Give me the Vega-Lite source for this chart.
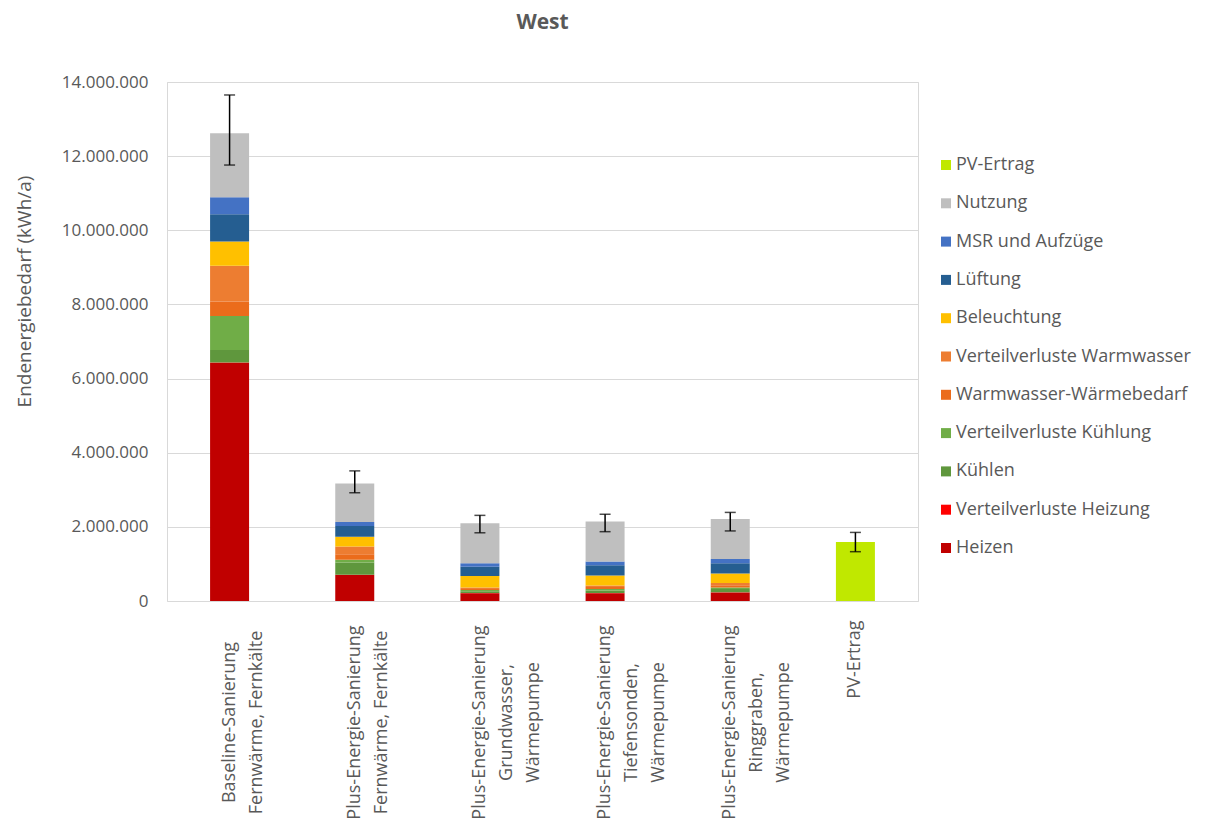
{
  "$schema": "https://vega.github.io/schema/vega-lite/v6.json",
  "autosize": "none",
  "width": 751,
  "height": 519,
  "padding": {"left": 167, "top": 82, "right": 288, "bottom": 230},
  "background": "white",
  "title": {"text": "West", "anchor": "middle", "frame": "group", "fontSize": 21, "fontWeight": "bold", "color": "#595959", "font": "Open Sans", "baseline": "bottom", "offset": 19},
  "datasets": {
    "segmente": [
      {"Variante": "Baseline-Sanierung|Fernwärme, Fernkälte", "Kategorie": "Heizen", "Nr": 1, "Wert": 6420000},
      {"Variante": "Baseline-Sanierung|Fernwärme, Fernkälte", "Kategorie": "Verteilverluste Heizung", "Nr": 2, "Wert": 15000},
      {"Variante": "Baseline-Sanierung|Fernwärme, Fernkälte", "Kategorie": "Kühlen", "Nr": 3, "Wert": 335000},
      {"Variante": "Baseline-Sanierung|Fernwärme, Fernkälte", "Kategorie": "Verteilverluste Kühlung", "Nr": 4, "Wert": 920000},
      {"Variante": "Baseline-Sanierung|Fernwärme, Fernkälte", "Kategorie": "Warmwasser-Wärmebedarf", "Nr": 5, "Wert": 390000},
      {"Variante": "Baseline-Sanierung|Fernwärme, Fernkälte", "Kategorie": "Verteilverluste Warmwasser", "Nr": 6, "Wert": 960000},
      {"Variante": "Baseline-Sanierung|Fernwärme, Fernkälte", "Kategorie": "Beleuchtung", "Nr": 7, "Wert": 660000},
      {"Variante": "Baseline-Sanierung|Fernwärme, Fernkälte", "Kategorie": "Lüftung", "Nr": 8, "Wert": 730000},
      {"Variante": "Baseline-Sanierung|Fernwärme, Fernkälte", "Kategorie": "MSR und Aufzüge", "Nr": 9, "Wert": 460000},
      {"Variante": "Baseline-Sanierung|Fernwärme, Fernkälte", "Kategorie": "Nutzung", "Nr": 10, "Wert": 1730000},

      {"Variante": "Plus-Energie-Sanierung|Fernwärme, Fernkälte", "Kategorie": "Heizen", "Nr": 1, "Wert": 700000},
      {"Variante": "Plus-Energie-Sanierung|Fernwärme, Fernkälte", "Kategorie": "Verteilverluste Heizung", "Nr": 2, "Wert": 10000},
      {"Variante": "Plus-Energie-Sanierung|Fernwärme, Fernkälte", "Kategorie": "Kühlen", "Nr": 3, "Wert": 330000},
      {"Variante": "Plus-Energie-Sanierung|Fernwärme, Fernkälte", "Kategorie": "Verteilverluste Kühlung", "Nr": 4, "Wert": 70000},
      {"Variante": "Plus-Energie-Sanierung|Fernwärme, Fernkälte", "Kategorie": "Warmwasser-Wärmebedarf", "Nr": 5, "Wert": 150000},
      {"Variante": "Plus-Energie-Sanierung|Fernwärme, Fernkälte", "Kategorie": "Verteilverluste Warmwasser", "Nr": 6, "Wert": 210000},
      {"Variante": "Plus-Energie-Sanierung|Fernwärme, Fernkälte", "Kategorie": "Beleuchtung", "Nr": 7, "Wert": 260000},
      {"Variante": "Plus-Energie-Sanierung|Fernwärme, Fernkälte", "Kategorie": "Lüftung", "Nr": 8, "Wert": 290000},
      {"Variante": "Plus-Energie-Sanierung|Fernwärme, Fernkälte", "Kategorie": "MSR und Aufzüge", "Nr": 9, "Wert": 110000},
      {"Variante": "Plus-Energie-Sanierung|Fernwärme, Fernkälte", "Kategorie": "Nutzung", "Nr": 10, "Wert": 1040000},

      {"Variante": "Plus-Energie-Sanierung|Grundwasser,|Wärmepumpe", "Kategorie": "Heizen", "Nr": 1, "Wert": 210000},
      {"Variante": "Plus-Energie-Sanierung|Grundwasser,|Wärmepumpe", "Kategorie": "Verteilverluste Heizung", "Nr": 2, "Wert": 5000},
      {"Variante": "Plus-Energie-Sanierung|Grundwasser,|Wärmepumpe", "Kategorie": "Kühlen", "Nr": 3, "Wert": 50000},
      {"Variante": "Plus-Energie-Sanierung|Grundwasser,|Wärmepumpe", "Kategorie": "Verteilverluste Kühlung", "Nr": 4, "Wert": 30000},
      {"Variante": "Plus-Energie-Sanierung|Grundwasser,|Wärmepumpe", "Kategorie": "Warmwasser-Wärmebedarf", "Nr": 5, "Wert": 30000},
      {"Variante": "Plus-Energie-Sanierung|Grundwasser,|Wärmepumpe", "Kategorie": "Verteilverluste Warmwasser", "Nr": 6, "Wert": 40000},
      {"Variante": "Plus-Energie-Sanierung|Grundwasser,|Wärmepumpe", "Kategorie": "Beleuchtung", "Nr": 7, "Wert": 310000},
      {"Variante": "Plus-Energie-Sanierung|Grundwasser,|Wärmepumpe", "Kategorie": "Lüftung", "Nr": 8, "Wert": 250000},
      {"Variante": "Plus-Energie-Sanierung|Grundwasser,|Wärmepumpe", "Kategorie": "MSR und Aufzüge", "Nr": 9, "Wert": 90000},
      {"Variante": "Plus-Energie-Sanierung|Grundwasser,|Wärmepumpe", "Kategorie": "Nutzung", "Nr": 10, "Wert": 1080000},

      {"Variante": "Plus-Energie-Sanierung|Tiefensonden,|Wärmepumpe", "Kategorie": "Heizen", "Nr": 1, "Wert": 210000},
      {"Variante": "Plus-Energie-Sanierung|Tiefensonden,|Wärmepumpe", "Kategorie": "Verteilverluste Heizung", "Nr": 2, "Wert": 5000},
      {"Variante": "Plus-Energie-Sanierung|Tiefensonden,|Wärmepumpe", "Kategorie": "Kühlen", "Nr": 3, "Wert": 70000},
      {"Variante": "Plus-Energie-Sanierung|Tiefensonden,|Wärmepumpe", "Kategorie": "Verteilverluste Kühlung", "Nr": 4, "Wert": 40000},
      {"Variante": "Plus-Energie-Sanierung|Tiefensonden,|Wärmepumpe", "Kategorie": "Warmwasser-Wärmebedarf", "Nr": 5, "Wert": 50000},
      {"Variante": "Plus-Energie-Sanierung|Tiefensonden,|Wärmepumpe", "Kategorie": "Verteilverluste Warmwasser", "Nr": 6, "Wert": 40000},
      {"Variante": "Plus-Energie-Sanierung|Tiefensonden,|Wärmepumpe", "Kategorie": "Beleuchtung", "Nr": 7, "Wert": 270000},
      {"Variante": "Plus-Energie-Sanierung|Tiefensonden,|Wärmepumpe", "Kategorie": "Lüftung", "Nr": 8, "Wert": 280000},
      {"Variante": "Plus-Energie-Sanierung|Tiefensonden,|Wärmepumpe", "Kategorie": "MSR und Aufzüge", "Nr": 9, "Wert": 100000},
      {"Variante": "Plus-Energie-Sanierung|Tiefensonden,|Wärmepumpe", "Kategorie": "Nutzung", "Nr": 10, "Wert": 1080000},

      {"Variante": "Plus-Energie-Sanierung|Ringgraben,|Wärmepumpe", "Kategorie": "Heizen", "Nr": 1, "Wert": 230000},
      {"Variante": "Plus-Energie-Sanierung|Ringgraben,|Wärmepumpe", "Kategorie": "Verteilverluste Heizung", "Nr": 2, "Wert": 5000},
      {"Variante": "Plus-Energie-Sanierung|Ringgraben,|Wärmepumpe", "Kategorie": "Kühlen", "Nr": 3, "Wert": 90000},
      {"Variante": "Plus-Energie-Sanierung|Ringgraben,|Wärmepumpe", "Kategorie": "Verteilverluste Kühlung", "Nr": 4, "Wert": 40000},
      {"Variante": "Plus-Energie-Sanierung|Ringgraben,|Wärmepumpe", "Kategorie": "Warmwasser-Wärmebedarf", "Nr": 5, "Wert": 60000},
      {"Variante": "Plus-Energie-Sanierung|Ringgraben,|Wärmepumpe", "Kategorie": "Verteilverluste Warmwasser", "Nr": 6, "Wert": 60000},
      {"Variante": "Plus-Energie-Sanierung|Ringgraben,|Wärmepumpe", "Kategorie": "Beleuchtung", "Nr": 7, "Wert": 260000},
      {"Variante": "Plus-Energie-Sanierung|Ringgraben,|Wärmepumpe", "Kategorie": "Lüftung", "Nr": 8, "Wert": 270000},
      {"Variante": "Plus-Energie-Sanierung|Ringgraben,|Wärmepumpe", "Kategorie": "MSR und Aufzüge", "Nr": 9, "Wert": 120000},
      {"Variante": "Plus-Energie-Sanierung|Ringgraben,|Wärmepumpe", "Kategorie": "Nutzung", "Nr": 10, "Wert": 1080000},

      {"Variante": "PV-Ertrag", "Kategorie": "PV-Ertrag", "Nr": 11, "Wert": 1590000}
    ],
    "fehler": [
      {"Variante": "Baseline-Sanierung|Fernwärme, Fernkälte", "Unten": 11760000, "Oben": 13650000},
      {"Variante": "Plus-Energie-Sanierung|Fernwärme, Fernkälte", "Unten": 2920000, "Oben": 3510000},
      {"Variante": "Plus-Energie-Sanierung|Grundwasser,|Wärmepumpe", "Unten": 1840000, "Oben": 2310000},
      {"Variante": "Plus-Energie-Sanierung|Tiefensonden,|Wärmepumpe", "Unten": 1870000, "Oben": 2340000},
      {"Variante": "Plus-Energie-Sanierung|Ringgraben,|Wärmepumpe", "Unten": 1890000, "Oben": 2390000},
      {"Variante": "PV-Ertrag", "Unten": 1330000, "Oben": 1850000}
    ]
  },
  "encoding": {
    "x": {
      "field": "Variante",
      "type": "nominal",
      "sort": [
        "Baseline-Sanierung|Fernwärme, Fernkälte",
        "Plus-Energie-Sanierung|Fernwärme, Fernkälte",
        "Plus-Energie-Sanierung|Grundwasser,|Wärmepumpe",
        "Plus-Energie-Sanierung|Tiefensonden,|Wärmepumpe",
        "Plus-Energie-Sanierung|Ringgraben,|Wärmepumpe",
        "PV-Ertrag"
      ],
      "scale": {"paddingInner": 0, "paddingOuter": 0},
      "axis": {
        "title": null,
        "labelExpr": "split(datum.label, '|')",
        "labelAngle": -90,
        "labelAlign": "center",
        "labelBaseline": "middle",
        "labelFont": "Open Sans",
        "labelFontSize": 18,
        "labelLineHeight": 27,
        "labelColor": "#595959",
        "labelLimit": 400,
        "labelOverlap": false,
        "labelPadding": {"condition": {"test": "datum.value === 'PV-Ertrag'", "value": 58}, "value": 121},
        "ticks": false,
        "tickSize": 0,
        "domain": false,
        "grid": false
      }
    }
  },
  "layer": [
    {
      "data": {"name": "segmente"},
      "mark": {"type": "bar", "width": 39},
      "encoding": {
        "y": {
          "field": "Wert",
          "type": "quantitative",
          "stack": "zero",
          "scale": {"domain": [0, 14000000], "nice": false},
          "axis": {
            "title": "Endenergiebedarf (kWh/a)",
            "format": ",.0f",
            "values": [0, 2000000, 4000000, 6000000, 8000000, 10000000, 12000000, 14000000],
            "labelOverlap": false,
            "labelFont": "Open Sans",
            "labelFontSize": 17,
            "labelColor": "#595959",
            "labelPadding": 19,
            "titleFont": "Open Sans",
            "titleFontSize": 19,
            "titleFontWeight": "normal",
            "titleColor": "#595959",
            "titleAngle": -90,
            "titleBaseline": "middle",
            "titleAlign": "center",
            "titleX": -143,
            "titleY": 209,
            "ticks": false,
            "domain": false,
            "grid": true,
            "gridColor": "#d9d9d9",
            "gridWidth": 1
          }
        },
        "color": {
          "field": "Kategorie",
          "type": "nominal",
          "scale": {
            "domain": ["PV-Ertrag", "Nutzung", "MSR und Aufzüge", "Lüftung", "Beleuchtung", "Verteilverluste Warmwasser", "Warmwasser-Wärmebedarf", "Verteilverluste Kühlung", "Kühlen", "Verteilverluste Heizung", "Heizen"],
            "range": ["#c0e800", "#bfbfbf", "#4472c4", "#255e91", "#ffc000", "#ed7d31", "#eb6c1b", "#70ad47", "#5f973d", "#ff0000", "#c00000"]
          },
          "legend": {
            "title": null,
            "orient": "none",
            "legendX": 770,
            "legendY": 74,
            "symbolType": "square",
            "symbolSize": 100,
            "symbolStrokeWidth": 0,
            "labelFont": "Open Sans",
            "labelFontSize": 18,
            "labelColor": "#595959",
            "labelOffset": 1,
            "rowPadding": 20.3,
            "labelLimit": 400
          }
        },
        "order": {"field": "Nr", "type": "quantitative", "sort": "ascending"}
      }
    },
    {
      "data": {"name": "fehler"},
      "mark": {"type": "rule", "color": "#000000", "strokeWidth": 1.5},
      "encoding": {
        "y": {"field": "Unten", "type": "quantitative"},
        "y2": {"field": "Oben"}
      }
    },
    {
      "data": {"name": "fehler"},
      "mark": {"type": "tick", "color": "#000000", "size": 11, "thickness": 1.5},
      "encoding": {
        "y": {"field": "Unten", "type": "quantitative"}
      }
    },
    {
      "data": {"name": "fehler"},
      "mark": {"type": "tick", "color": "#000000", "size": 11, "thickness": 1.5},
      "encoding": {
        "y": {"field": "Oben", "type": "quantitative"}
      }
    }
  ],
  "config": {
    "locale": {"number": {"decimal": ",", "thousands": ".", "grouping": [3], "currency": ["", " €"]}},
    "view": {"stroke": "#d9d9d9", "strokeWidth": 1},
    "font": "Open Sans"
  }
}
